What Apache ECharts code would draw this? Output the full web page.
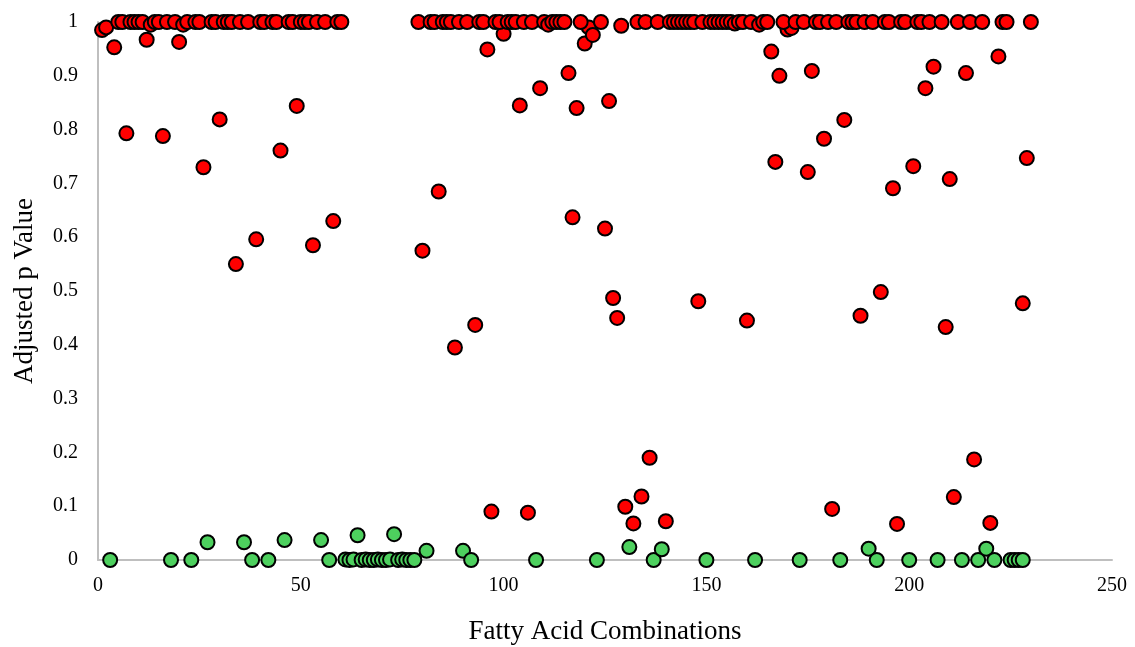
<!DOCTYPE html>
<html>
<head>
<meta charset="utf-8">
<script src="https://cdn.jsdelivr.net/npm/echarts@6/dist/echarts.min.js"></script>
<style>
  html, body { margin: 0; padding: 0; background: #fff; }
  #chart { width: 1135px; height: 647px; }
</style>
</head>
<body>
<div id="chart"></div>
<script>
// adjusted p values, not significant (red)
var redX = [1, 2, 4, 7, 12, 16, 20, 26, 30, 34, 39, 45, 49, 53, 58,
  80, 84, 88, 93, 96, 97, 100, 104, 106, 109, 116, 117, 118, 120, 121, 122,
  125, 126, 127, 128, 129, 130, 132, 134, 136, 140, 148, 160, 166, 167, 168,
  170, 171, 175, 176, 179, 181, 184, 188, 193, 196, 197, 201, 204, 206, 209,
  210, 211, 214, 216, 220, 222, 228, 229,
  // top row
  5, 6, 8, 9, 10, 11, 13, 14, 15, 17, 19, 21, 22, 24, 25, 28, 29, 31, 32, 33,
  35, 37, 40, 41, 43, 44, 47, 48, 50, 51, 52, 54, 56, 59, 60,
  79, 82, 83, 85, 86, 87, 89, 91, 94, 95, 98, 99, 101, 102, 103, 105, 107,
  110, 111, 112, 113, 114, 115, 119, 124,
  133, 135, 138, 141, 142, 143, 144, 145, 146, 147, 149, 151, 152, 153, 154,
  155, 156, 157, 158, 159, 161, 163, 164, 165, 169, 172, 174, 177, 178, 180,
  182, 185, 186, 187, 189, 191, 194, 195, 198, 199, 202, 203, 205, 208, 212,
  215, 218, 223, 224, 230];
var redY = [0.985, 0.99, 0.953, 0.793, 0.967, 0.788, 0.963, 0.73, 0.819, 0.55, 0.596, 0.761, 0.844, 0.585, 0.63,
  0.575, 0.685, 0.395, 0.437, 0.949, 0.09, 0.978, 0.845, 0.088, 0.877, 0.905, 0.637, 0.84, 0.96, 0.99, 0.976,
  0.616, 0.853, 0.487, 0.45, 0.993, 0.099, 0.068, 0.118, 0.19, 0.072, 0.481, 0.445, 0.945, 0.74, 0.9,
  0.986, 0.989, 0.721, 0.909, 0.783, 0.095, 0.818, 0.454, 0.498, 0.691, 0.067, 0.732, 0.877, 0.917, 0.433,
  0.708, 0.117, 0.905, 0.187, 0.069, 0.936, 0.477, 0.747,
  1, 1, 1, 1, 1, 1, 0.995, 1, 1, 1, 1, 0.995, 1, 1, 1, 1, 1, 1, 1, 1,
  1, 1, 1, 1, 1, 1, 1, 1, 1, 1, 1, 1, 1, 1, 1,
  1, 1, 1, 1, 1, 1, 1, 1, 1, 1, 1, 1, 1, 1, 1, 1, 1,
  1, 0.995, 1, 1, 1, 1, 1, 1,
  1, 1, 1, 1, 1, 1, 1, 1, 1, 1, 1, 1, 1, 1, 1,
  1, 1, 0.997, 1, 1, 1, 0.995, 1, 1, 1, 1, 1, 1, 1, 1,
  1, 1, 1, 1, 1, 1, 1, 1, 1, 1, 1, 1, 1, 1, 1,
  1, 1, 1, 1, 1];

// significant (green)
var greenX = [3, 18, 23, 27, 36, 38, 42, 46, 55, 57,
  61, 62, 63, 64, 65, 66, 67, 68, 69, 70, 71, 72, 73, 74, 75, 76, 77, 78,
  81, 90, 92, 108, 123, 131, 137, 139, 150, 162, 173, 183, 190, 192, 200,
  207, 213, 217, 219, 221, 225, 226, 227, 228];
var greenY = [0, 0, 0, 0.033, 0.033, 0, 0, 0.037, 0.037, 0,
  0.001, 0, 0.001, 0.046, 0, 0.001, 0, 0, 0.001, 0, 0, 0.001, 0.048, 0, 0.001, 0, 0, 0,
  0.017, 0.017, 0, 0, 0, 0.024, 0, 0.02, 0, 0, 0, 0, 0.021, 0, 0,
  0, 0, 0, 0.021, 0, 0, 0, 0, 0];

var xTicks = { min: 0, max: 250, interval: 50 };
var yTicks = { min: 0, max: 1, interval: 0.1 };

function pairs(xs, ys) {
  return xs.map(function (x, i) { return [x, ys[i]]; });
}

var myChart = echarts.init(document.getElementById('chart'));
var font = '"Liberation Serif", "Times New Roman", serif';

var options = {
  animation: false,
  backgroundColor: '#ffffff',
  grid: { left: 98, right: 23, top: 22, bottom: 87, outerBoundsMode: 'none', containLabel: false },
  xAxis: {
    type: 'value',
    min: xTicks.min, max: xTicks.max, interval: xTicks.interval,
    name: 'Fatty Acid Combinations',
    nameLocation: 'middle',
    nameGap: 58,
    nameTextStyle: { fontFamily: font, fontSize: 27, color: '#000' },
    axisLine: { show: true, lineStyle: { color: '#bfbfbf', width: 2 } },
    axisTick: { show: false },
    splitLine: { show: false },
    axisLabel: { fontFamily: font, fontSize: 20, color: '#000', margin: 16 }
  },
  yAxis: {
    type: 'value',
    min: yTicks.min, max: yTicks.max, interval: yTicks.interval,
    name: 'Adjusted p Value',
    nameLocation: 'middle',
    nameGap: 60,
    nameTextStyle: { fontFamily: font, fontSize: 27, color: '#000' },
    axisLine: { show: true, lineStyle: { color: '#bfbfbf', width: 2 } },
    axisTick: { show: false },
    splitLine: { show: false },
    axisLabel: { fontFamily: font, fontSize: 20, color: '#000', margin: 20 }
  },
  series: [
    {
      name: 'not significant',
      type: 'scatter',
      clip: false,
      symbolSize: 14,
      itemStyle: { color: '#ff0000', borderColor: '#000', borderWidth: 2, opacity: 1 },
      data: pairs(redX, redY)
    },
    {
      name: 'significant',
      type: 'scatter',
      clip: false,
      symbolSize: 14,
      itemStyle: { color: '#4dd05e', borderColor: '#000', borderWidth: 2, opacity: 1 },
      data: pairs(greenX, greenY)
    }
  ]
};
myChart.setOption(options);
</script>
</body>
</html>
